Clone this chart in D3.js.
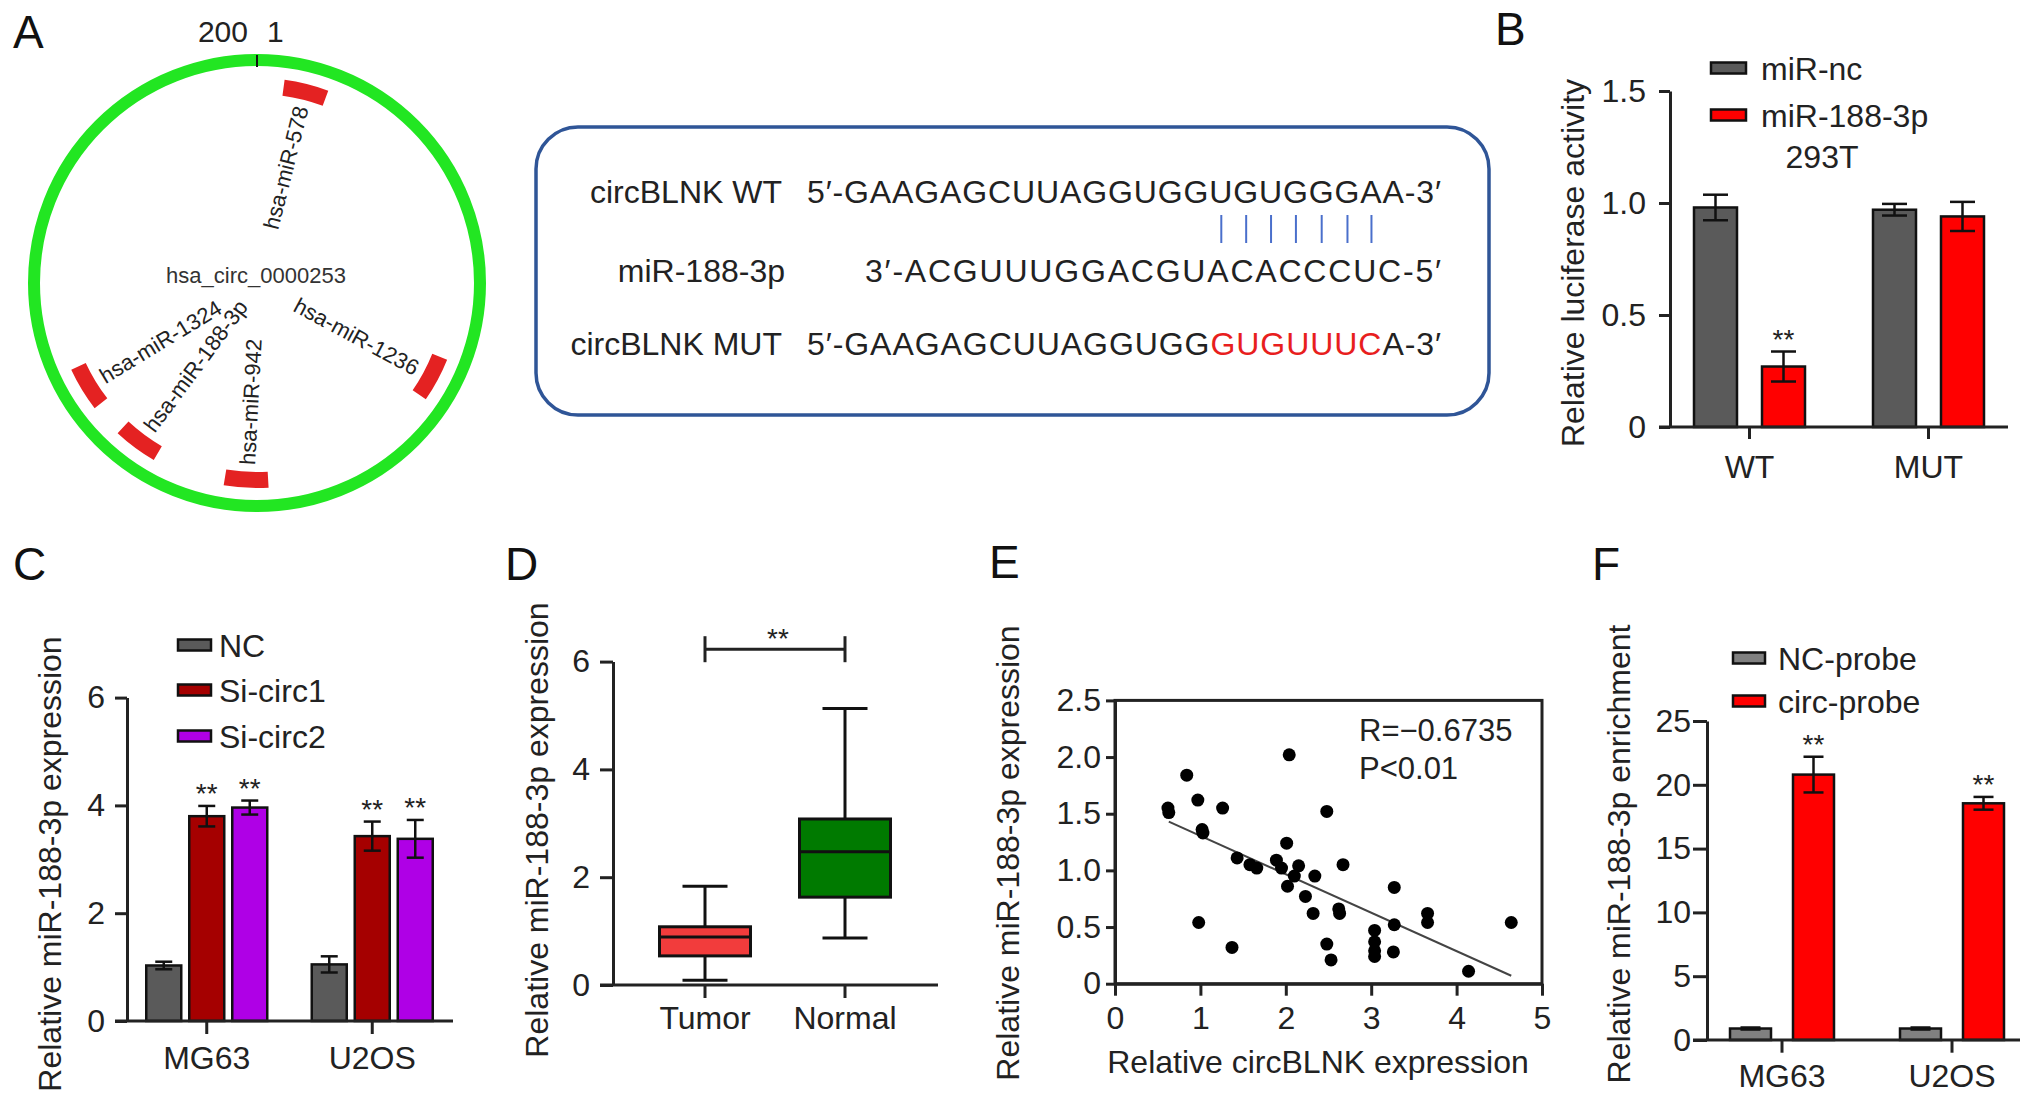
<!DOCTYPE html>
<html>
<head>
<meta charset="utf-8">
<script src="https://cdn.jsdelivr.net/npm/d3@7"></script>
<style>
  body { margin: 0; background: #fff; }
</style>
</head>
<body>
<div id="chart"></div>
<script>
// ---------- data ----------
// A: circRNA map (positions in nt on a 200 nt circle)
const circLength = 200;
const siteNames = ["hsa-miR-578", "hsa-miR-1236", "hsa-miR-942", "hsa-miR-188-3p", "hsa-miR-1324"];
const sitePos = [7.8, 65.7, 101.7, 120.3, 132.6];
const seqLabels = ["circBLNK WT", "miR-188-3p", "circBLNK MUT"];
const seqWT = "5′-GAAGAGCUUAGGUGGUGUGGGAA-3′";
const seqMiR = "3′-ACGUUUGGACGUACACCCUC-5′";
const seqMutParts = ["5′-GAAGAGCUUAGGUGG", "GUGUUUC", "A-3′"];
const pairedNt = [16, 17, 18, 19, 20, 21, 22];

// B: luciferase
const lucGroups = ["WT", "MUT"];
const lucSeries = ["miR-nc", "miR-188-3p"];
const lucMean = [[0.98, 0.97], [0.27, 0.94]];
const lucErr = [[0.057, 0.026], [0.067, 0.065]];
const lucStars = [[false, false], [true, false]];
const lucTicks = [0, 0.5, 1.0, 1.5];

// C: knockdown
const kdGroups = ["MG63", "U2OS"];
const kdSeries = ["NC", "Si-circ1", "Si-circ2"];
const kdMean = [[1.03, 1.05], [3.80, 3.43], [3.96, 3.38]];
const kdErr = [[0.07, 0.15], [0.19, 0.27], [0.13, 0.35]];
const kdStars = [[false, false], [true, true], [true, true]];
const kdTicks = [0, 2, 4, 6];

// D: tissue box plot [min, q1, median, q3, max]
const boxGroups = ["Tumor", "Normal"];
const boxStats = [[0.09, 0.54, 0.89, 1.08, 1.83], [0.87, 1.63, 2.47, 3.08, 5.13]];
const boxTicks = [0, 2, 4, 6];

// E: correlation
const corrX = [0.62, 0.63, 0.84, 0.97, 1.26, 1.02, 1.03, 0.98, 1.43, 1.37, 1.58, 1.66, 1.89, 1.95,
  2.01, 2.04, 2.02, 2.15, 2.10, 2.23, 2.34, 2.32, 2.48, 2.67, 2.62, 2.63, 2.48, 2.53,
  3.04, 3.04, 3.04, 3.04, 3.27, 3.27, 3.26, 3.66, 3.66, 4.14, 4.64];
const corrY = [1.55, 1.51, 1.84, 1.62, 1.55, 1.36, 1.33, 0.54, 1.11, 0.32, 1.05, 1.02, 1.09, 1.02,
  1.24, 2.02, 0.86, 1.04, 0.95, 0.77, 0.95, 0.62, 1.52, 1.05, 0.66, 0.62, 0.35, 0.21,
  0.47, 0.37, 0.29, 0.24, 0.85, 0.52, 0.28, 0.62, 0.54, 0.11, 0.54];
const fitLine = [[0.63, 1.43], [4.64, 0.07]];
const corrXTicks = [0, 1, 2, 3, 4, 5];
const corrYTicks = [0, 0.5, 1.0, 1.5, 2.0, 2.5];

// F: pull-down
const pdGroups = ["MG63", "U2OS"];
const pdSeries = ["NC-probe", "circ-probe"];
const pdMean = [[0.9, 0.9], [20.8, 18.55]];
const pdErr = [[0.08, 0.08], [1.4, 0.5]];
const pdStars = [[false, false], [true, true]];
const pdTicks = [0, 5, 10, 15, 20, 25];

// ---------- drawing ----------
const ink = "#222";
const svg = d3.select("#chart").append("svg")
  .attr("width", 2032).attr("height", 1108)
  .style("font-family", '"Liberation Sans", Arial, Helvetica, sans-serif');

const oneDec = d => d === 0 ? "0" : d3.format(".1f")(d);

function styleAxis(sel) {
  sel.attr("font-family", null).attr("font-size", null);
  sel.selectAll("path, line").attr("stroke", ink).attr("stroke-width", 3);
  sel.selectAll("text").attr("font-size", 32).attr("fill", ink);
}

function panelLetter(t, x, y) {
  svg.append("text").attr("x", x).attr("y", y).attr("font-size", 46).attr("fill", "#111").text(t);
}

function yTitle(t, x, y) {
  svg.append("text").attr("transform", `translate(${x},${y}) rotate(-90)`)
    .attr("text-anchor", "middle").attr("font-size", 32).attr("fill", ink).text(t);
}

function drawBars(c) {
  const g = svg.append("g");
  const x = d3.scaleBand().domain(c.groups).range(c.xRange);
  const xi = d3.scalePoint().domain(c.series).range([-c.inner, c.inner]);
  const y = d3.scaleLinear().domain(c.yDomain).range(c.yRange);
  const rows = [];
  c.series.forEach((s, si) => c.groups.forEach((gr, gi) => rows.push({
    s, si, gr, v: c.mean[si][gi], e: c.err[si][gi], star: c.stars[si][gi]
  })));
  const cx = d => x(d.gr) + x.bandwidth() / 2 + xi(d.s);

  g.selectAll("rect.bar").data(rows).join("rect").attr("class", "bar")
    .attr("x", d => cx(d) - c.barW / 2).attr("y", d => y(d.v))
    .attr("width", c.barW).attr("height", d => y(0) - y(d.v))
    .attr("fill", d => c.colors[d.si]).attr("stroke", "#111").attr("stroke-width", 2.5);

  const eb = g.selectAll("g.err").data(rows).join("g").attr("class", "err")
    .attr("stroke", "#111").attr("stroke-width", 2.5);
  eb.append("line").attr("x1", cx).attr("x2", cx)
    .attr("y1", d => y(d.v - d.e)).attr("y2", d => y(d.v + d.e));
  eb.append("line").attr("x1", d => cx(d) - c.capW / 2).attr("x2", d => cx(d) + c.capW / 2)
    .attr("y1", d => y(d.v + d.e)).attr("y2", d => y(d.v + d.e));
  eb.append("line").attr("x1", d => cx(d) - c.capW / 2).attr("x2", d => cx(d) + c.capW / 2)
    .attr("y1", d => y(d.v - d.e)).attr("y2", d => y(d.v - d.e));

  g.selectAll("text.star").data(rows.filter(d => d.star)).join("text").attr("class", "star")
    .attr("x", cx).attr("y", d => y(d.v + d.e) - 3)
    .attr("text-anchor", "middle").attr("font-size", 28).attr("fill", ink).text("**");

  g.append("g").attr("transform", `translate(${c.axisX},0)`)
    .call(d3.axisLeft(y).tickValues(c.ticks).tickFormat(c.fmt)
      .tickSize(c.tickLen).tickPadding(c.tickPad).tickSizeOuter(0))
    .call(styleAxis);

  g.append("line").attr("x1", c.axisX - c.tickLen).attr("x2", c.xEnd)
    .attr("y1", y(0)).attr("y2", y(0)).attr("stroke", ink).attr("stroke-width", 3);
  g.append("g").attr("transform", `translate(0,${y(0)})`)
    .call(d3.axisBottom(x).tickSize(c.xTickLen).tickPadding(c.xPad))
    .call(ax => ax.select(".domain").remove())
    .call(styleAxis);

  const lg = g.selectAll("g.leg").data(c.series).join("g").attr("class", "leg");
  lg.append("rect").attr("x", c.legend.x).attr("y", (d, i) => c.legend.ys[i] - c.legend.h / 2)
    .attr("width", c.legend.w).attr("height", c.legend.h)
    .attr("fill", (d, i) => c.colors[i]).attr("stroke", "#111").attr("stroke-width", 2.5);
  lg.append("text").attr("x", c.legend.tx).attr("y", (d, i) => c.legend.ys[i] + 11.5)
    .attr("font-size", 32).attr("fill", ink).text(d => d);

  yTitle(c.title, c.titleX, c.titleY);
  return g;
}

// ---- Panel A: circle ----
panelLetter("A", 13, 48);
const cA = svg.append("g").attr("transform", "translate(257,283)");
const ang = d3.scaleLinear().domain([0, circLength]).range([0, 2 * Math.PI]);
cA.append("circle").attr("r", 223).attr("fill", "none")
  .attr("stroke", "#22e622").attr("stroke-width", 12);
cA.append("line").attr("x1", 0).attr("x2", 0).attr("y1", -228).attr("y2", -216)
  .attr("stroke", "#111").attr("stroke-width", 2);
cA.append("text").attr("x", -9).attr("y", -241).attr("text-anchor", "end")
  .attr("font-size", 30).attr("fill", ink).text("200");
cA.append("text").attr("x", 10).attr("y", -241)
  .attr("font-size", 30).attr("fill", ink).text("1");
cA.append("text").attr("x", -1).attr("y", 0).attr("text-anchor", "middle")
  .attr("font-size", 22).attr("fill", "#333").text("hsa_circ_0000253");

const sites = siteNames.map((n, i) => ({ n, pos: sitePos[i] }));
const siteArc = d3.arc().innerRadius(189).outerRadius(205);
cA.selectAll("path.site").data(sites).join("path").attr("class", "site")
  .attr("d", d => siteArc({ startAngle: ang(d.pos - 3.5), endAngle: ang(d.pos + 3.5) }))
  .attr("fill", "#e42222");
cA.selectAll("text.site").data(sites).join("text").attr("class", "site")
  .attr("transform", d => {
    const a = ang(d.pos), deg = a * 180 / Math.PI, r = 182;
    const rot = deg < 180 ? deg - 90 : deg + 90;
    return `translate(${r * Math.sin(a)},${-r * Math.cos(a)}) rotate(${rot})`;
  })
  .attr("text-anchor", d => ang(d.pos) < Math.PI ? "end" : "start")
  .attr("dy", "0.35em").attr("font-size", 22).attr("fill", ink).text(d => d.n);

// ---- Panel A: sequence box ----
svg.append("rect").attr("x", 536).attr("y", 127).attr("width", 953).attr("height", 288)
  .attr("rx", 42).attr("fill", "none").attr("stroke", "#2f5597").attr("stroke-width", 3.5);
const seqBase = [203, 282, 355];
const labelRight = [782, 785, 782];
svg.selectAll("text.seqlab").data(seqLabels).join("text").attr("class", "seqlab")
  .attr("x", (d, i) => labelRight[i]).attr("y", (d, i) => seqBase[i])
  .attr("text-anchor", "end").attr("font-size", 32).attr("fill", ink).text(d => d);

const seqEnd = 1441;
function fitSpacing(t, x0) {
  const n = t.text().length;
  const natural = t.node().getComputedTextLength();
  t.attr("letter-spacing", (seqEnd - x0 - natural) / (n - 1));
}
const wt = svg.append("text").attr("x", 807).attr("y", seqBase[0])
  .attr("font-size", 32).attr("fill", ink).text(seqWT);
fitSpacing(wt, 807);
const mi = svg.append("text").attr("x", 865).attr("y", seqBase[1])
  .attr("font-size", 32).attr("fill", ink).text(seqMiR);
fitSpacing(mi, 865);
const mut = svg.append("text").attr("x", 807).attr("y", seqBase[2])
  .attr("font-size", 32).attr("fill", ink);
mut.selectAll("tspan").data(seqMutParts).join("tspan")
  .attr("fill", (d, i) => i === 1 ? "#e81e1e" : ink).text(d => d);
fitSpacing(mut, 807);

const pairX = pairedNt.map(p => {
  const ext = wt.node().getExtentOfChar(2 + p);
  return ext.x + ext.width / 2;
});
svg.selectAll("line.pair").data(pairX).join("line").attr("class", "pair")
  .attr("x1", d => d).attr("x2", d => d).attr("y1", 215).attr("y2", 243)
  .attr("stroke", "#4a6fcb").attr("stroke-width", 2);

// ---- Panel B ----
panelLetter("B", 1495, 45);
drawBars({
  groups: lucGroups, series: lucSeries, mean: lucMean, err: lucErr, stars: lucStars,
  colors: ["#5a5a5a", "#ff0000"],
  xRange: [1660, 2018], inner: 34, barW: 43, capW: 25,
  yDomain: [0, 1.5], yRange: [427, 91], ticks: lucTicks, fmt: oneDec,
  axisX: 1670, tickLen: 11, tickPad: 13, xEnd: 2008, xTickLen: 12, xPad: 16,
  legend: { x: 1711, w: 35, h: 11, ys: [68, 115], tx: 1761 },
  title: "Relative luciferase activity", titleX: 1584, titleY: 263
});
svg.append("text").attr("x", 1822).attr("y", 168).attr("text-anchor", "middle")
  .attr("font-size", 32).attr("fill", ink).text("293T");

// ---- Panel C ----
panelLetter("C", 13, 580);
drawBars({
  groups: kdGroups, series: kdSeries, mean: kdMean, err: kdErr, stars: kdStars,
  colors: ["#5a5a5a", "#a50000", "#af00e6"],
  xRange: [124, 455], inner: 43, barW: 35, capW: 17,
  yDomain: [0, 6], yRange: [1021, 697.6], ticks: kdTicks, fmt: d3.format("d"),
  axisX: 127, tickLen: 12, tickPad: 10, xEnd: 453, xTickLen: 13, xPad: 12,
  legend: { x: 178, w: 33, h: 11, ys: [645, 690, 736], tx: 219 },
  title: "Relative miR-188-3p expression", titleX: 61, titleY: 864
});

// ---- Panel D ----
panelLetter("D", 505, 580);
const gD = svg.append("g");
const yD = d3.scaleLinear().domain([0, 6]).range([985, 661.6]);
const xD = d3.scaleBand().domain(boxGroups).range([635, 915]);
const cxD = g => xD(g) + xD.bandwidth() / 2;
const boxColors = ["#f23c3c", "#007a00"];
const boxes = boxGroups.map((g, i) => ({ g, s: boxStats[i], c: boxColors[i] }));
const bw = 91, cw = 45;
const bx = gD.selectAll("g.box").data(boxes).join("g").attr("class", "box")
  .attr("stroke", "#111").attr("stroke-width", 3);
bx.append("line").attr("x1", d => cxD(d.g)).attr("x2", d => cxD(d.g))
  .attr("y1", d => yD(d.s[0])).attr("y2", d => yD(d.s[4]));
bx.append("line").attr("x1", d => cxD(d.g) - cw / 2).attr("x2", d => cxD(d.g) + cw / 2)
  .attr("y1", d => yD(d.s[0])).attr("y2", d => yD(d.s[0]));
bx.append("line").attr("x1", d => cxD(d.g) - cw / 2).attr("x2", d => cxD(d.g) + cw / 2)
  .attr("y1", d => yD(d.s[4])).attr("y2", d => yD(d.s[4]));
bx.append("rect").attr("x", d => cxD(d.g) - bw / 2).attr("width", bw)
  .attr("y", d => yD(d.s[3])).attr("height", d => yD(d.s[1]) - yD(d.s[3]))
  .attr("fill", d => d.c);
bx.append("line").attr("x1", d => cxD(d.g) - bw / 2).attr("x2", d => cxD(d.g) + bw / 2)
  .attr("y1", d => yD(d.s[2])).attr("y2", d => yD(d.s[2]));

gD.append("g").attr("transform", "translate(613,0)")
  .call(d3.axisLeft(yD).tickValues(boxTicks).tickFormat(d3.format("d"))
    .tickSize(13).tickPadding(10).tickSizeOuter(0))
  .call(styleAxis);
gD.append("line").attr("x1", 600).attr("x2", 938).attr("y1", yD(0)).attr("y2", yD(0))
  .attr("stroke", ink).attr("stroke-width", 3);
gD.append("g").attr("transform", `translate(0,${yD(0)})`)
  .call(d3.axisBottom(xD).tickSize(13).tickPadding(8))
  .call(ax => ax.select(".domain").remove())
  .call(styleAxis);
const brY = yD(6.23);
const br = gD.append("g").attr("stroke", ink).attr("stroke-width", 3);
br.append("line").attr("x1", cxD("Tumor")).attr("x2", cxD("Normal")).attr("y1", brY).attr("y2", brY);
br.append("line").attr("x1", cxD("Tumor")).attr("x2", cxD("Tumor")).attr("y1", brY - 13).attr("y2", brY + 13);
br.append("line").attr("x1", cxD("Normal")).attr("x2", cxD("Normal")).attr("y1", brY - 13).attr("y2", brY + 13);
gD.append("text").attr("x", (cxD("Tumor") + cxD("Normal")) / 2 + 3).attr("y", brY - 1)
  .attr("text-anchor", "middle").attr("font-size", 28).attr("fill", ink).text("**");
yTitle("Relative miR-188-3p expression", 548, 830);

// ---- Panel E ----
panelLetter("E", 989, 578);
const gE = svg.append("g");
const xE = d3.scaleLinear().domain([0, 5]).range([1115, 1542]);
const yE = d3.scaleLinear().domain([0, 2.5]).range([983.7, 700.4]);
gE.append("rect").attr("x", xE(0)).attr("y", yE(2.5))
  .attr("width", xE(5) - xE(0)).attr("height", yE(0) - yE(2.5))
  .attr("fill", "none").attr("stroke", ink).attr("stroke-width", 3);
gE.append("g").attr("transform", `translate(${xE(0)},0)`)
  .call(d3.axisLeft(yE).tickValues(corrYTicks).tickFormat(oneDec)
    .tickSize(9).tickPadding(5).tickSizeOuter(0))
  .call(styleAxis);
gE.append("g").attr("transform", `translate(0,${yE(0)})`)
  .call(d3.axisBottom(xE).tickValues(corrXTicks).tickFormat(d3.format("d"))
    .tickSize(12).tickPadding(11).tickSizeOuter(0))
  .call(styleAxis);
gE.append("path").datum(fitLine)
  .attr("d", d3.line().x(d => xE(d[0])).y(d => yE(d[1])))
  .attr("fill", "none").attr("stroke", "#444").attr("stroke-width", 2);
gE.selectAll("circle").data(corrX.map((v, i) => [v, corrY[i]])).join("circle")
  .attr("cx", d => xE(d[0])).attr("cy", d => yE(d[1])).attr("r", 6.5).attr("fill", "#000");
gE.append("text").attr("x", 1359).attr("y", 741).attr("font-size", 31).attr("fill", ink).text("R=−0.6735");
gE.append("text").attr("x", 1359).attr("y", 779).attr("font-size", 31).attr("fill", ink).text("P<0.01");
gE.append("text").attr("x", 1318).attr("y", 1073).attr("text-anchor", "middle")
  .attr("font-size", 32).attr("fill", ink).text("Relative circBLNK expression");
yTitle("Relative miR-188-3p expression", 1019, 853);

// ---- Panel F ----
panelLetter("F", 1592, 580);
drawBars({
  groups: pdGroups, series: pdSeries, mean: pdMean, err: pdErr, stars: pdStars,
  colors: ["#808080", "#ff0000"],
  xRange: [1697, 2037], inner: 31.5, barW: 41, capW: 20,
  yDomain: [0, 25], yRange: [1040, 721], ticks: pdTicks, fmt: d3.format("d"),
  axisX: 1707, tickLen: 14, tickPad: 2, xEnd: 2020, xTickLen: 12.7, xPad: 12,
  legend: { x: 1733, w: 32, h: 11, ys: [658, 701], tx: 1778 },
  title: "Relative miR-188-3p enrichment", titleX: 1630, titleY: 854
});
</script>
</body>
</html>
